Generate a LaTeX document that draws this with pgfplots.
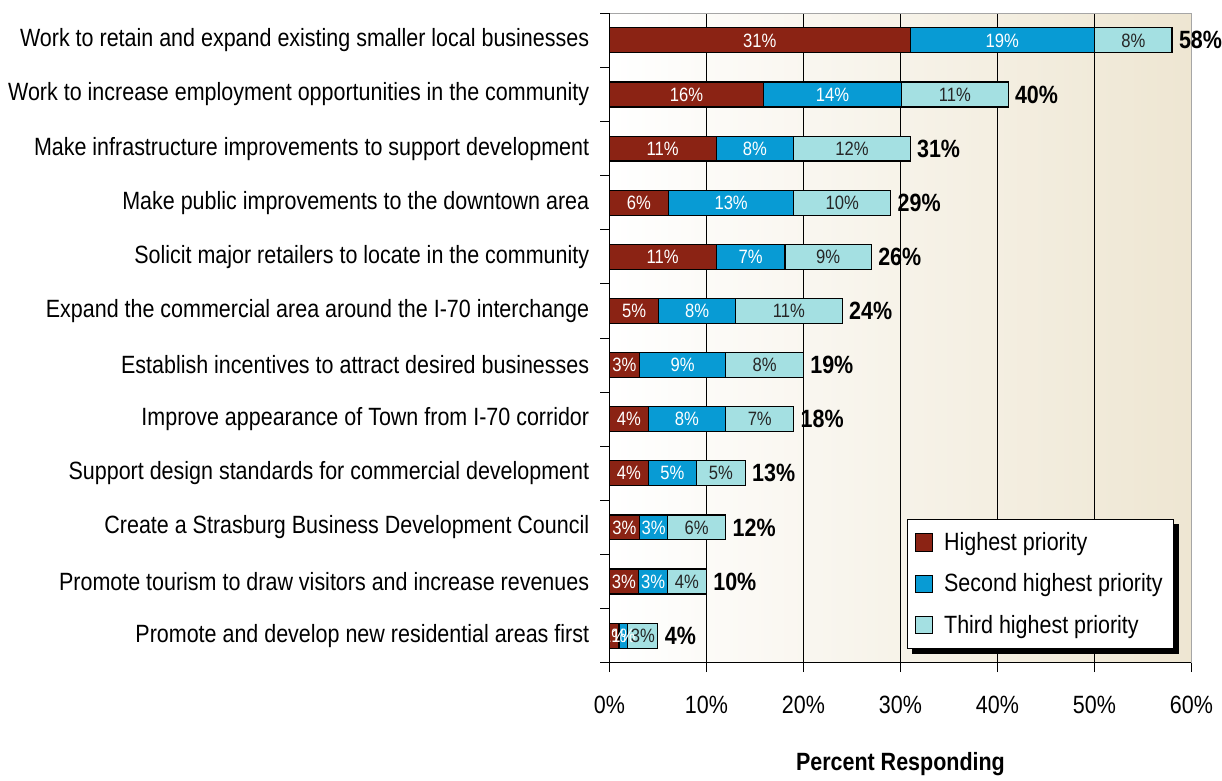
\documentclass[border=0pt]{standalone}
\usepackage{fontspec}
\setmainfont{Liberation Sans}[FakeStretch=0.86]
\usepackage{pgfplots}
\pgfplotsset{compat=1.18}
\usepackage{pgfplotstable}

\definecolor{cRed}{RGB}{139,35,20}
\definecolor{cBlue}{RGB}{8,155,212}
\definecolor{cCyan}{RGB}{164,224,226}
\definecolor{cBeige}{RGB}{238,230,210}

% bar lengths, printed labels kept apart
\pgfplotstableread{
y r b c lr lb lc tot
0 31 19 8 31 19 8 58
1 15.9 14.2 11 16 14 11 40
2 11 8 12 11 8 12 31
3 6.1 12.9 10 6 13 10 29
4 11 7.1 8.9 11 7 9 26
5 5.1 7.9 11 5 8 11 24
6 3.1 8.9 8 3 9 8 19
7 4 8 7 4 8 7 18
8 4 5 5 4 5 5 13
9 3.1 2.9 6 3 3 6 12
10 3 3 4 3 3 4 10
11 1 0.9 3.1 1 1 3 4
}\data

\newcommand{\lbl}{\fontsize{18.75}{22}\selectfont}
\newcommand{\vlbl}{\fontsize{14.5}{16}\selectfont}

\pgfplotsset{
  seg/.style={xbar, bar shift=0pt, draw=black, line width=0.9pt, fill=#1},
  vals/.style={only marks, mark=*, mark size=0pt, mark options={draw=none, fill=none},
    forget plot, point meta=explicit symbolic,
    nodes near coords={\pgfplotspointmeta\%},
    every node near coord/.append style={anchor=center, font=\vlbl, inner sep=0pt, text=#1}},
}

\begin{document}
\begin{tikzpicture}
\begin{axis}[
  scale only axis, width=437pt, height=487.5pt,
  bar width=18.75pt,
  xmin=0, xmax=60, ymin=-0.5, ymax=11.5, y dir=reverse,
  axis background/.style={left color=white, right color=cBeige},
  axis line style={gray!70},
  xtick={0,10,...,60},
  xticklabels={0\%,10\%,20\%,30\%,40\%,50\%,60\%},
  xtick pos=bottom, ytick pos=left,
  tick align=outside, major tick length=7pt,
  tick style={black, line width=0.6pt},
  xmajorgrids, major grid style={black, line width=0.5pt},
  ytick={-0.5,0.5,...,11.5}, yticklabels={},
  extra y ticks={0,...,11},
  extra y tick style={major tick length=0pt},
  extra y tick labels={
    Work to retain and expand existing smaller local businesses,
    Work to increase employment opportunities in the community,
    Make infrastructure improvements to support development,
    Make public improvements to the downtown area,
    Solicit major retailers to locate in the community,
    Expand the commercial area around the I-70 interchange,
    Establish incentives to attract desired businesses,
    Improve appearance of Town from I-70 corridor,
    Support design standards for commercial development,
    Create a Strasburg Business Development Council,
    Promote tourism to draw visitors and increase revenues,
    Promote and develop new residential areas first},
  y tick label style={font=\lbl, anchor=east, inner sep=0pt, xshift=-15pt},
  x tick label style={font=\lbl, anchor=north, inner sep=0pt, yshift=-18pt},
  xlabel={\bfseries Percent Responding},
  xlabel style={font=\lbl, yshift=-25.5pt},
  legend style={at={(0.511,0.2215)}, anchor=north west, draw=black, fill=white,
    font=\lbl, row sep=12pt, inner xsep=6pt, inner ysep=8pt, name=leg,
    /tikz/every odd column/.append style={column sep=6pt}},
  legend cell align=left, reverse legend,
  legend image code/.code={\draw[#1, draw=black, line width=0.8pt] (0pt,-6.5pt) rectangle (13pt,6.5pt);},
  clip=false,
  after end axis/.code={
    \draw[black, line width=0.8pt] (axis cs:0,-0.5) -- (axis cs:0,11.5) -- (axis cs:60,11.5);
  },
]
% cumulative bars drawn from the back: third, second, highest
\addplot[seg=cCyan] table[x expr=\thisrow{r}+\thisrow{b}+\thisrow{c}, y=y] {\data};
\addlegendentry{Third highest priority}
\addplot[seg=cBlue] table[x expr=\thisrow{r}+\thisrow{b}, y=y] {\data};
\addlegendentry{Second highest priority}
\addplot[seg=cRed] table[x=r, y=y] {\data};
\addlegendentry{Highest priority}
% segment labels at segment centres
\addplot[vals=white] table[x expr=\thisrow{r}/2, y=y, meta=lr] {\data};
\addplot[vals=white] table[x expr=\thisrow{r}+\thisrow{b}/2, y=y, meta=lb] {\data};
\addplot[vals=black!85] table[x expr=\thisrow{r}+\thisrow{b}+\thisrow{c}/2, y=y, meta=lc] {\data};
% bold totals
\addplot[only marks, mark=*, mark size=0pt, mark options={draw=none, fill=none},
  forget plot, point meta=explicit symbolic,
  nodes near coords={\pgfplotspointmeta\%},
  every node near coord/.append style={anchor=west, font=\lbl\bfseries, inner sep=0pt, xshift=5pt, text=black}]
  table[x expr=\thisrow{r}+\thisrow{b}+\thisrow{c}, y=y, meta=tot] {\data};
\end{axis}
% legend shadow, right and bottom strips
\fill[black] ([yshift=-4pt]leg.north east) rectangle ([xshift=4pt,yshift=-4pt]leg.south east);
\fill[black] ([xshift=4pt]leg.south west) rectangle ([xshift=4pt,yshift=-4pt]leg.south east);
% page margins as in the reference
\path ([xshift=-457.5pt,yshift=10pt]current axis.north west) ([xshift=21.75pt,yshift=-86.5pt]current axis.south east);
\end{tikzpicture}
\end{document}
